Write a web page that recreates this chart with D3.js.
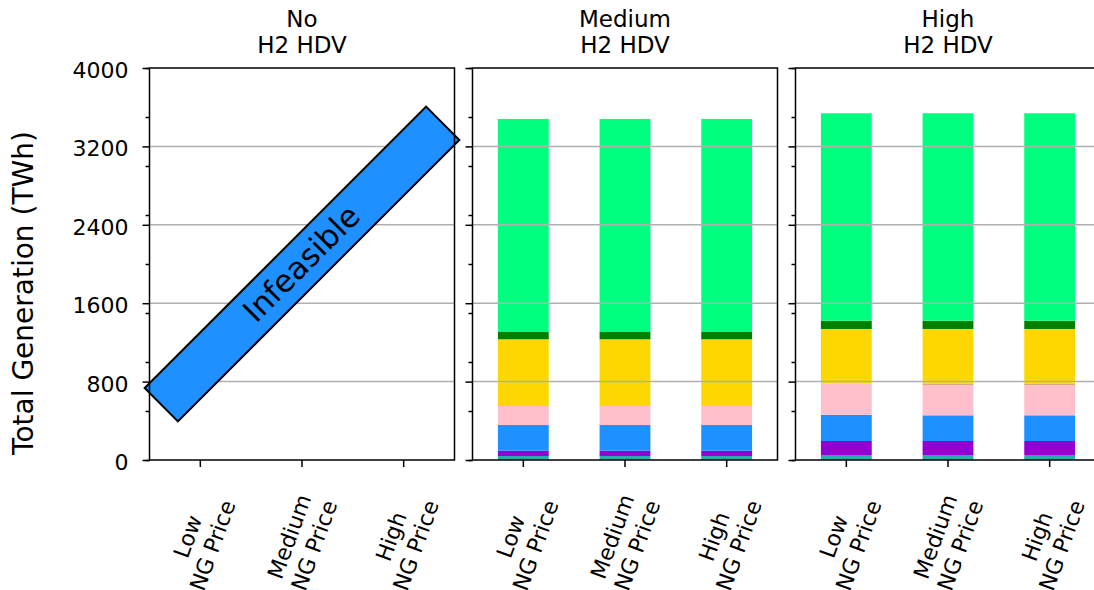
<!DOCTYPE html>
<html>
<head>
<meta charset="utf-8">
<script src="https://cdn.jsdelivr.net/npm/d3@7"></script>
<style>
body { margin: 0; background: #fff; }
svg { display: block; font-family: "DejaVu Sans", sans-serif; }
</style>
</head>
<body>
<div id="chart"></div>
<script>
// categories
const ngLevels = ["Low", "Medium", "High"];
const h2Levels = ["No", "Medium", "High"];
const techKeys = ["teal", "purple", "blue", "pink", "tan", "gold", "green", "spring"];
const techColors = ["#20b2aa", "#9400d3", "#1e90ff", "#ffc0cb", "#c8a060", "#ffd700", "#008000", "#00ff7f"];
const yTicks = [0, 800, 1600, 2400, 3200, 4000];
const yMinorTicks = [0, 500, 1000, 1500, 2000, 2500, 3000, 3500, 4000];

// generation (TWh) per tech, one value per NG price level
// Medium H2 HDV
const medTeal = [41, 41, 41];
const medPurple = [54, 54, 54];
const medBlue = [262, 262, 262];
const medPink = [194, 194, 194];
const medTan = [0, 0, 0];
const medGold = [681, 681, 681];
const medGreen = [74, 74, 74];
const medSpring = [2174, 2174, 2174];
// High H2 HDV
const highTeal = [51, 51, 51];
const highPurple = [143, 143, 143];
const highBlue = [268, 262, 262];
const highPink = [321, 311, 311];
const highTan = [0, 10, 10];
const highGold = [554, 560, 560];
const highGreen = [84, 84, 84];
const highSpring = [2117, 2117, 2117];

const width = 1094, height = 590;
const margin = {top: 68, bottom: 130};
const panelLeft = [149.5, 472.5, 795.5];
const panelW = 305;

function makeRows(cols) {
    return ngLevels.map(function(ng, j) {
        var r = {ng: ng};
        techKeys.forEach(function(k, t) { r[k] = cols[t][j]; });
        return r;
    });
}

// "No" scenario is infeasible, no bars
const panelData = [
    null,
    makeRows([medTeal, medPurple, medBlue, medPink, medTan, medGold, medGreen, medSpring]),
    makeRows([highTeal, highPurple, highBlue, highPink, highTan, highGold, highGreen, highSpring])
];

const svg = d3.select("#chart").append("svg")
    .attr("width", width)
    .attr("height", height);

const y = d3.scaleLinear().domain([0, 4000]).range([height - margin.bottom, margin.top]);
const x = d3.scaleBand().domain(ngLevels).range([0, panelW]).paddingInner(0.5).paddingOuter(0.25);
const color = d3.scaleOrdinal().domain(techKeys).range(techColors);

h2Levels.forEach(function(h2, i) {
    var g = svg.append("g").attr("transform", "translate(" + panelLeft[i] + ",0)");
    var rows = panelData[i];

    if (rows) {
        var series = d3.stack().keys(techKeys)(rows);
        g.selectAll("g.layer")
            .data(series)
            .join("g")
                .attr("class", "layer")
                .attr("fill", function(d) { return color(d.key); })
            .selectAll("rect")
            .data(function(d) { return d; })
            .join("rect")
                .attr("x", function(d) { return x(d.data.ng); })
                .attr("width", x.bandwidth())
                .attr("y", function(d) { return y(d[1]); })
                .attr("height", function(d) { return y(d[0]) - y(d[1]); });
    }

    // grid on top of bars
    g.append("g").selectAll("line")
        .data(yTicks.slice(1, -1))
        .join("line")
            .attr("x1", 0)
            .attr("x2", panelW)
            .attr("y1", function(d) { return y(d); })
            .attr("y2", function(d) { return y(d); })
            .attr("stroke", "#b0b0b0")
            .attr("stroke-width", 1.5);

    if (!rows) {
        var cx = panelW / 2, cy = (y(0) + y(4000)) / 2;
        var box = g.append("g").attr("transform", "translate(" + cx + "," + cy + ") rotate(-45)");
        box.append("rect")
            .attr("x", -199).attr("y", -23.5)
            .attr("width", 398).attr("height", 47)
            .attr("fill", "#1e90ff")
            .attr("stroke", "black")
            .attr("stroke-width", 2);
        box.append("text")
            .attr("text-anchor", "middle")
            .attr("dy", "0.32em")
            .attr("font-size", "31px")
            .text("Infeasible");
    }

    // minor ticks
    var minor = g.append("g")
        .call(d3.axisLeft(y).tickValues(yMinorTicks).tickSize(4).tickFormat(""));
    minor.select(".domain").remove();
    minor.selectAll("line").attr("stroke-width", 1.5);

    var yAxis = g.append("g")
        .call(d3.axisLeft(y).tickValues(yTicks).tickSize(7).tickPadding(14)
            .tickFormat(i === 0 ? d3.format("d") : ""));
    yAxis.select(".domain").remove();
    yAxis.selectAll("line").attr("stroke-width", 1.5);
    yAxis.selectAll("text").attr("font-size", "22px").attr("font-family", "DejaVu Sans").attr("dy", "0.43em");

    var xAxis = g.append("g")
        .attr("transform", "translate(0," + y(0) + ")")
        .call(d3.axisBottom(x).tickSize(7).tickFormat(""));
    xAxis.select(".domain").remove();
    xAxis.selectAll("line").attr("stroke-width", 1.5);

    // spines
    g.append("rect")
        .attr("x", 0).attr("y", y(4000))
        .attr("width", panelW).attr("height", y(0) - y(4000))
        .attr("fill", "none")
        .attr("stroke", "black")
        .attr("stroke-width", 1.5);

    // rotated two-line tick labels
    ngLevels.forEach(function(ng) {
        var t = g.append("text")
            .attr("text-anchor", "middle")
            .attr("font-size", "22px");
        t.append("tspan").attr("x", 0).attr("y", 0).text(ng);
        t.append("tspan").attr("x", 0).attr("dy", "1.2em").text("NG Price");
        var bb = t.node().getBBox();
        var a = 70 * Math.PI / 180;
        var halfH = (bb.width * Math.sin(a) + bb.height * Math.cos(a)) / 2;
        var tx = x(ng) + x.bandwidth() / 2;
        t.attr("transform", "translate(" + tx + "," + (488 + halfH) + ") rotate(-70) translate(" +
            (-(bb.x + bb.width / 2)) + "," + (-(bb.y + bb.height / 2)) + ")");
    });

    // panel title
    var title = g.append("text")
        .attr("text-anchor", "middle")
        .attr("font-size", "23px");
    title.append("tspan").attr("x", panelW / 2).attr("y", 26.7).text(h2);
    title.append("tspan").attr("x", panelW / 2).attr("y", 53.3).text("H2 HDV");
});

svg.append("text")
    .attr("transform", "rotate(-90)")
    .attr("x", -293)
    .attr("y", 33.3)
    .attr("text-anchor", "middle")
    .attr("font-size", "28px")
    .text("Total Generation (TWh)");
</script>
</body>
</html>
